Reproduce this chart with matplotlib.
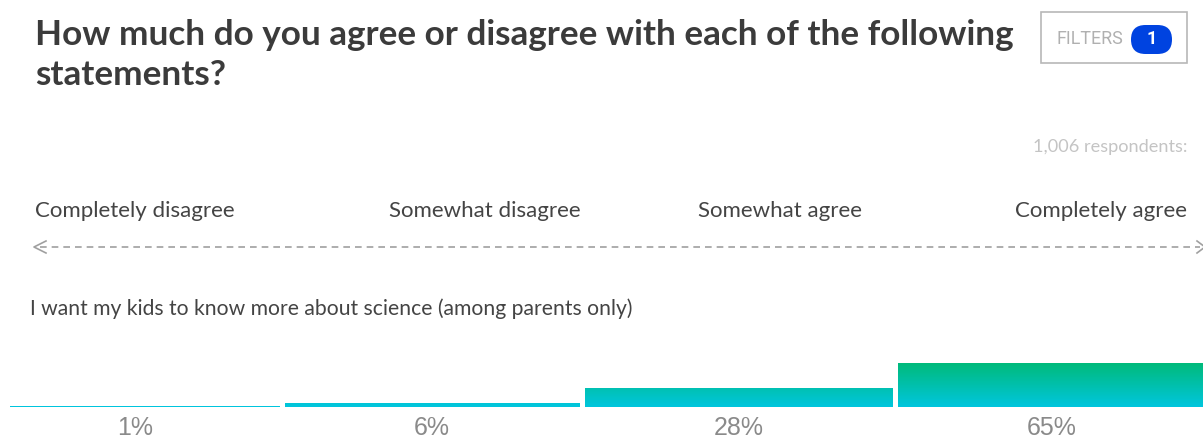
import numpy as np
import matplotlib
matplotlib.use("Agg")
import matplotlib.pyplot as plt
from matplotlib.colors import LinearSegmentedColormap
from matplotlib.patches import FancyBboxPatch, Rectangle

# --- data ---
title_lines = ["How much do you agree or disagree with each of the following", "statements?"]
scale_labels = ["Completely disagree", "Somewhat disagree", "Somewhat agree", "Completely agree"]
statement = "I want my kids to know more about science (among parents only)"
respondents = "1,006 respondents:"
shares = [1, 6, 28, 65]
filter_count = 1

W, H = 1203, 448
fig = plt.figure(figsize=(W / 100, H / 100), dpi=100)
fig.patch.set_facecolor("white")

# overlay axes in pixel coordinates (y down) for the text/decoration
ov = fig.add_axes([0, 0, 1, 1])
ov.set_xlim(0, W)
ov.set_ylim(H, 0)
ov.axis("off")

for i, line in enumerate(title_lines):
    ov.text(35, 45 + 40 * i, line, fontsize=25.3, fontweight="bold", color="#3b3b3b",
            family="Lato", va="baseline", ha="left")

# filters button
ov.add_patch(Rectangle((1041, 12), 146, 51, fill=False, edgecolor="#b8b8b8", lw=1.2))
ov.text(1057, 39, "FILTERS", fontsize=12.9, color="#b0b0b0", family="Roboto",
        va="center", ha="left")
ov.add_patch(FancyBboxPatch((1131, 25), 41, 29, boxstyle="round,pad=0,rounding_size=14.5",
                            facecolor="#0043e0", edgecolor="none"))
ov.text(1151.5, 39.5, str(filter_count), fontsize=13, color="white", fontweight="bold",
        family="Roboto", ha="center", va="center")

ov.text(1187, 147, respondents, fontsize=13.1, color="#c4c4c4", family="Lato",
        ha="right", va="center")

# scale labels
label_x = [35, 484.5, 779.5, 1187]
label_ha = ["left", "center", "center", "right"]
for lbl, x, ha in zip(scale_labels, label_x, label_ha):
    ov.text(x, 211, lbl, fontsize=16, color="#444444", family="Lato",
            ha=ha, va="center")

# dashed double arrow
ov.plot([40, 1200], [247, 247], color="#a0a0a0", lw=1.2, dashes=(4, 3))
ov.plot([46, 34, 46], [241, 247, 253], color="#a0a0a0", lw=1.2)
ov.plot([1197, 1205, 1197], [241, 247, 253], color="#a0a0a0", lw=1.2)

ov.text(30, 309, statement, fontsize=15.2, color="#444444", family="Lato",
        ha="left", va="center")

# --- bars ---
bar_left = [10, 285, 585, 898]
bar_right = [280, 580, 893, 1210]
base_px, top_px = 407, 363
ax = fig.add_axes([0, (H - base_px) / H, 1, (base_px - top_px) / H])
ax.set_xlim(0, W)
ax.set_ylim(0, max(shares))
ax.axis("off")

cmap = LinearSegmentedColormap.from_list("grad", ["#00c6de", "#00ba78"])
grad = np.linspace(0, 1, 256).reshape(-1, 1)
centers = [(l + r) / 2 for l, r in zip(bar_left, bar_right)]
widths = [r - l for l, r in zip(bar_left, bar_right)]
bars = ax.bar(centers, shares, width=widths, color="none", edgecolor="none")
for b in bars:
    im = ax.imshow(grad, cmap=cmap, aspect="auto", origin="lower",
                   extent=(0, W, 0, max(shares)), zorder=1)
    im.set_clip_path(b)
ax.set_xlim(0, W)
ax.set_ylim(0, max(shares))

for c, s in zip([135, 432, 739, 1052], shares):
    ov.text(c, 428, f"{s}%", fontsize=18, color="#8a8a8a", family="Liberation Sans",
            ha="center", va="center")

fig.savefig("out.png", dpi=100, facecolor="white")
